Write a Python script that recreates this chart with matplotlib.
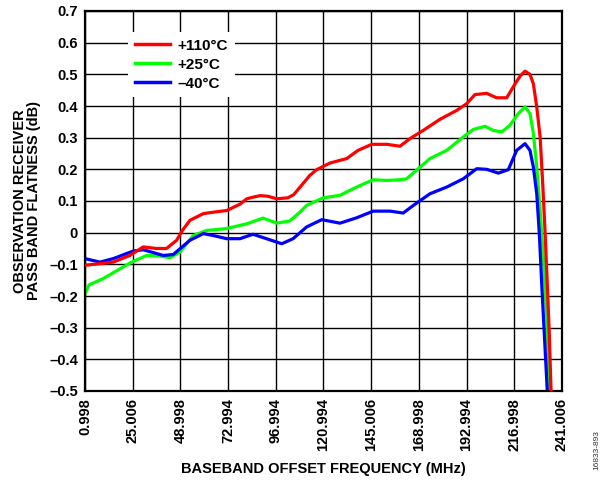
import matplotlib.pyplot as plt

# frequency ticks (MHz)
x_ticks = [0.998, 25.006, 48.998, 72.994, 96.994, 120.994, 145.006, 168.998, 192.994, 216.998, 241.006]
x_labels = ['0.998', '25.006', '48.998', '72.994', '96.994', '120.994', '145.006', '168.998', '192.994', '216.998', '241.006']
y_ticks = [0.7, 0.6, 0.5, 0.4, 0.3, 0.2, 0.1, 0, -0.1, -0.2, -0.3, -0.4, -0.5]
y_labels = ['0.7', '0.6', '0.5', '0.4', '0.3', '0.2', '0.1', '0', '–0.1', '–0.2', '–0.3', '–0.4', '–0.5']

# +110C
x_hot = [0.998, 8.5, 15.2, 23.6, 30.3, 37, 42, 47.1, 50, 53.8, 60.5, 66, 72.3, 79, 82.4, 85.5, 89.1, 93,
         97.5, 103, 106, 110.7, 114, 117.6, 124.3, 132.7, 138.4, 145.3, 152.8, 159.5, 164.5, 171.2, 179.6,
         188, 193, 197.2, 203.1, 208.1, 213.2, 217.4, 220, 222.4, 224.9, 226.6, 228.3, 230, 231.3, 232.5,
         233.6, 234.6, 235.5]
y_hot = [-0.103, -0.098, -0.093, -0.072, -0.045, -0.05, -0.05, -0.024, 0.007, 0.039, 0.06, 0.065, 0.07, 0.09,
         0.107, 0.112, 0.117, 0.115, 0.107, 0.11, 0.12, 0.155, 0.18, 0.199, 0.22, 0.234, 0.26, 0.279, 0.279,
         0.273, 0.297, 0.323, 0.358, 0.386, 0.407, 0.436, 0.44, 0.426, 0.426, 0.47, 0.495, 0.51, 0.5, 0.47,
         0.397, 0.302, 0.155, 0.0, -0.161, -0.319, -0.5]

# +25C
x_room = [0.998, 3, 10.2, 17, 24.5, 32, 38.7, 43.8, 48.8, 55.5, 62.2, 72.3, 79, 82.4, 90.6, 97.5, 104, 109.2,
          112.5, 120.9, 129.3, 137.7, 146, 152.8, 159.5, 162.8, 167.8, 174.6, 183, 191.3, 196.4, 202.3, 206.4,
          210.7, 214.8, 219, 222.4, 224.9, 226.6, 228.3, 230, 231.6, 233.3, 234.6]
y_room = [-0.193, -0.165, -0.145, -0.12, -0.093, -0.072, -0.074, -0.079, -0.061, -0.009, 0.007, 0.013, 0.023,
          0.028, 0.046, 0.03, 0.037, 0.065, 0.086, 0.11, 0.118, 0.144, 0.167, 0.165, 0.167, 0.17, 0.197, 0.234,
          0.26, 0.302, 0.326, 0.336, 0.323, 0.318, 0.339, 0.376, 0.397, 0.376, 0.313, 0.207, 0.07, -0.077,
          -0.267, -0.5]

# -40C
x_cold = [0.998, 8.5, 15.2, 25.3, 30.3, 40.4, 45.4, 53.8, 60.5, 65.5, 72.3, 79, 85.5, 92.3, 100, 105.7, 112.5,
          120.1, 129.3, 137.7, 146, 154.5, 161.1, 166.2, 174.6, 183, 191.3, 198.1, 203.1, 209, 214, 218.2,
          222.4, 224.9, 226.6, 228.3, 229.6, 230.8, 232.1, 233.6]
y_cold = [-0.082, -0.093, -0.082, -0.058, -0.054, -0.072, -0.069, -0.024, -0.003, -0.009, -0.019, -0.019,
          -0.005, -0.019, -0.035, -0.019, 0.018, 0.041, 0.03, 0.047, 0.068, 0.068, 0.062, 0.086, 0.123, 0.144,
          0.17, 0.202, 0.2, 0.188, 0.199, 0.26, 0.281, 0.26, 0.207, 0.123, -0.003, -0.161, -0.319, -0.5]

plt.rcParams['font.family'] = 'Liberation Sans'
plt.rcParams['font.weight'] = 'bold'

fig = plt.figure(figsize=(6.15, 4.82), dpi=100)
ax = fig.add_axes([85 / 615, 91 / 482, 477 / 615, 380 / 482])

ax.plot(x_hot, y_hot, color='#ff0000', lw=2.3, label='+110°C', zorder=3)
ax.plot(x_room, y_room, color='#00ff00', lw=2.3, label='+25°C', zorder=2)
ax.plot(x_cold, y_cold, color='#0000ff', lw=2.3, label='–40°C', zorder=2)

ax.set_xlim(0.998, 241.006)
ax.set_ylim(-0.5, 0.7)
ax.set_xticks(x_ticks)
ax.set_xticklabels(x_labels, rotation=90, fontsize=10.5, fontweight='bold')
ax.set_yticks(y_ticks)
ax.set_yticklabels(y_labels, fontsize=10.5, fontweight='bold')
ax.tick_params(length=0, pad=5)
ax.grid(True, color='black', lw=1)
for s in ax.spines.values():
    s.set_linewidth(1.6)

ax.set_xlabel('BASEBAND OFFSET FREQUENCY (MHz)', fontsize=10.5, fontweight='bold', labelpad=8)
ax.set_ylabel('OBSERVATION RECEIVER\nPASS BAND FLATNESS (dB)', fontsize=10.5, fontweight='bold',
              labelpad=6, linespacing=0.95)

# legend box: white, no border, sits over the grid
leg = ax.legend(loc='upper left', bbox_to_anchor=(0.09, 0.945), fontsize=11, frameon=True,
                fancybox=False, handlelength=2.3, handletextpad=0.5, labelspacing=0.32,
                borderpad=0.45, borderaxespad=0)
leg.get_frame().set_edgecolor('none')
leg.get_frame().set_facecolor('white')
leg.get_frame().set_alpha(1)
for line in leg.get_lines():
    line.set_linewidth(2.5)

fig.text(0.971, 0.025, '16833-893', rotation=90, fontsize=6, fontweight='normal',
         color='#333333', ha='center', va='bottom')

plt.savefig('out.png', dpi=100)
